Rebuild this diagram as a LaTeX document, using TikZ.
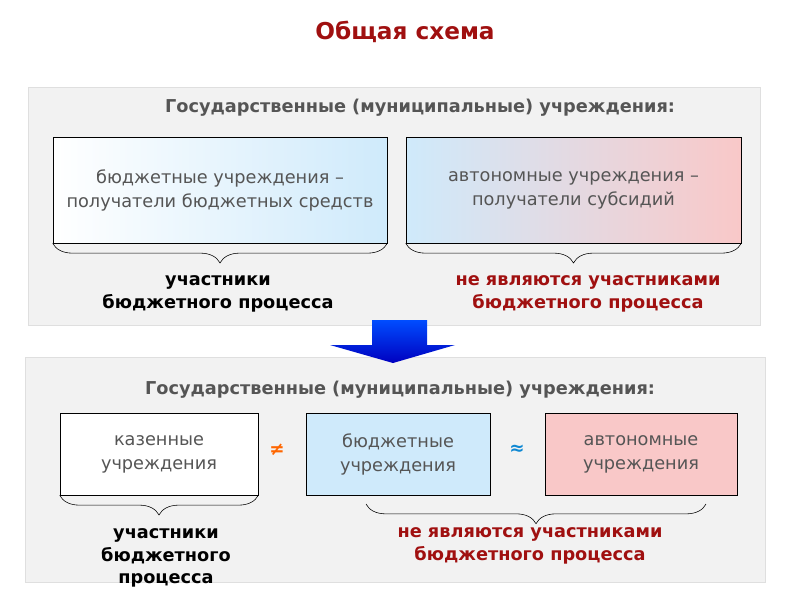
\documentclass[tikz,border=0pt]{standalone}
\usepackage{fontspec}
\setmainfont{DejaVu Sans}
\usetikzlibrary{decorations.pathreplacing}
\definecolor{darkred}{HTML}{A01010}
\definecolor{textgray}{HTML}{555555}
\definecolor{lightblue}{HTML}{CFEAFB}
\definecolor{lightpink}{HTML}{F9C8C8}
\definecolor{panelgray}{HTML}{F2F2F2}
\begin{document}
\begin{tikzpicture}
[x=0.025cm,y=-0.025cm,
panel/.style={draw=gray!25,fill=panelgray},
inst/.style={draw=black,thin,text=textgray,align=center,font=\fontsize{12.6}{17}\selectfont,inner sep=0pt},
head/.style={text=textgray,font=\bfseries\fontsize{12.6}{15}\selectfont},
result/.style={align=center,font=\bfseries\fontsize{12.6}{16}\selectfont},
brc/.style={decorate,decoration={brace,mirror,amplitude=14pt},thin}]
  \useasboundingbox (0,0) rectangle (800,600);
  \node[text=darkred,font=\bfseries\fontsize{16.5}{19}\selectfont] (title) at (405,32) {Общая схема};
  % upper panel
  \draw[panel] (28,87) rectangle (760,325);
  \node[head] (head1) at (420,108) {Государственные (муниципальные) учреждения:};
  \shade[left color=white,right color=lightblue] (53,137) rectangle (387,243);
  \node[inst,minimum width=334*0.025cm,minimum height=106*0.025cm] (budget1) at (220,190)
    {бюджетные учреждения –\\получатели бюджетных средств};
  \shade[left color=lightblue,right color=lightpink] (406,137) rectangle (741,243);
  \node[inst,minimum width=335*0.025cm,minimum height=106*0.025cm] (auto1) at (573.5,190)
    {автономные учреждения –\\получатели субсидий};
  \draw[brc] (budget1.south west) -- (budget1.south east);
  \draw[brc] (auto1.south west) -- (auto1.south east);
  \node[result] (part1) at (218,294) {участники\\бюджетного процесса};
  \node[result,text=darkred] (nonpart1) at (588,294) {не являются участниками\\бюджетного процесса};
  % lower panel
  \draw[panel] (25,357) rectangle (765,582);
  \node[head] (head2) at (400,390) {Государственные (муниципальные) учреждения:};
  \node[inst,fill=white,minimum width=198*0.025cm,minimum height=82*0.025cm] (state) at (159,454)
    {казенные\\учреждения};
  \node[inst,fill=lightblue,minimum width=184*0.025cm,minimum height=82*0.025cm] (budget2) at (398,454)
    {бюджетные\\учреждения};
  \node[inst,fill=lightpink,minimum width=192*0.025cm,minimum height=82*0.025cm] (auto2) at (641,454)
    {автономные\\учреждения};
  \node[text=orange!80!red,font=\bfseries\fontsize{13}{15}\selectfont] (neq) at (277,450) {≠};
  \node[text=cyan!70!blue,font=\bfseries\fontsize{13}{15}\selectfont] (approx) at (517,450) {≈};
  \draw[brc] (state.south west) -- (state.south east);
  \coordinate (bl) at (366,504);
  \coordinate (br) at (706,504);
  \draw[brc] (bl) -- (br);
  \node[result] (part2) at (166,558) {участники\\бюджетного\\процесса};
  \node[result,text=darkred] (nonpart2) at (530,546) {не являются участниками\\бюджетного процесса};
  % arrow between panels
  \shade[top color=blue!70!cyan,bottom color=blue!75!black]
    (372,320) -- (427,320) -- (427,345) -- (455,345) -- (393,363) -- (330,345) -- (372,345) -- cycle;
\end{tikzpicture}
\end{document}
